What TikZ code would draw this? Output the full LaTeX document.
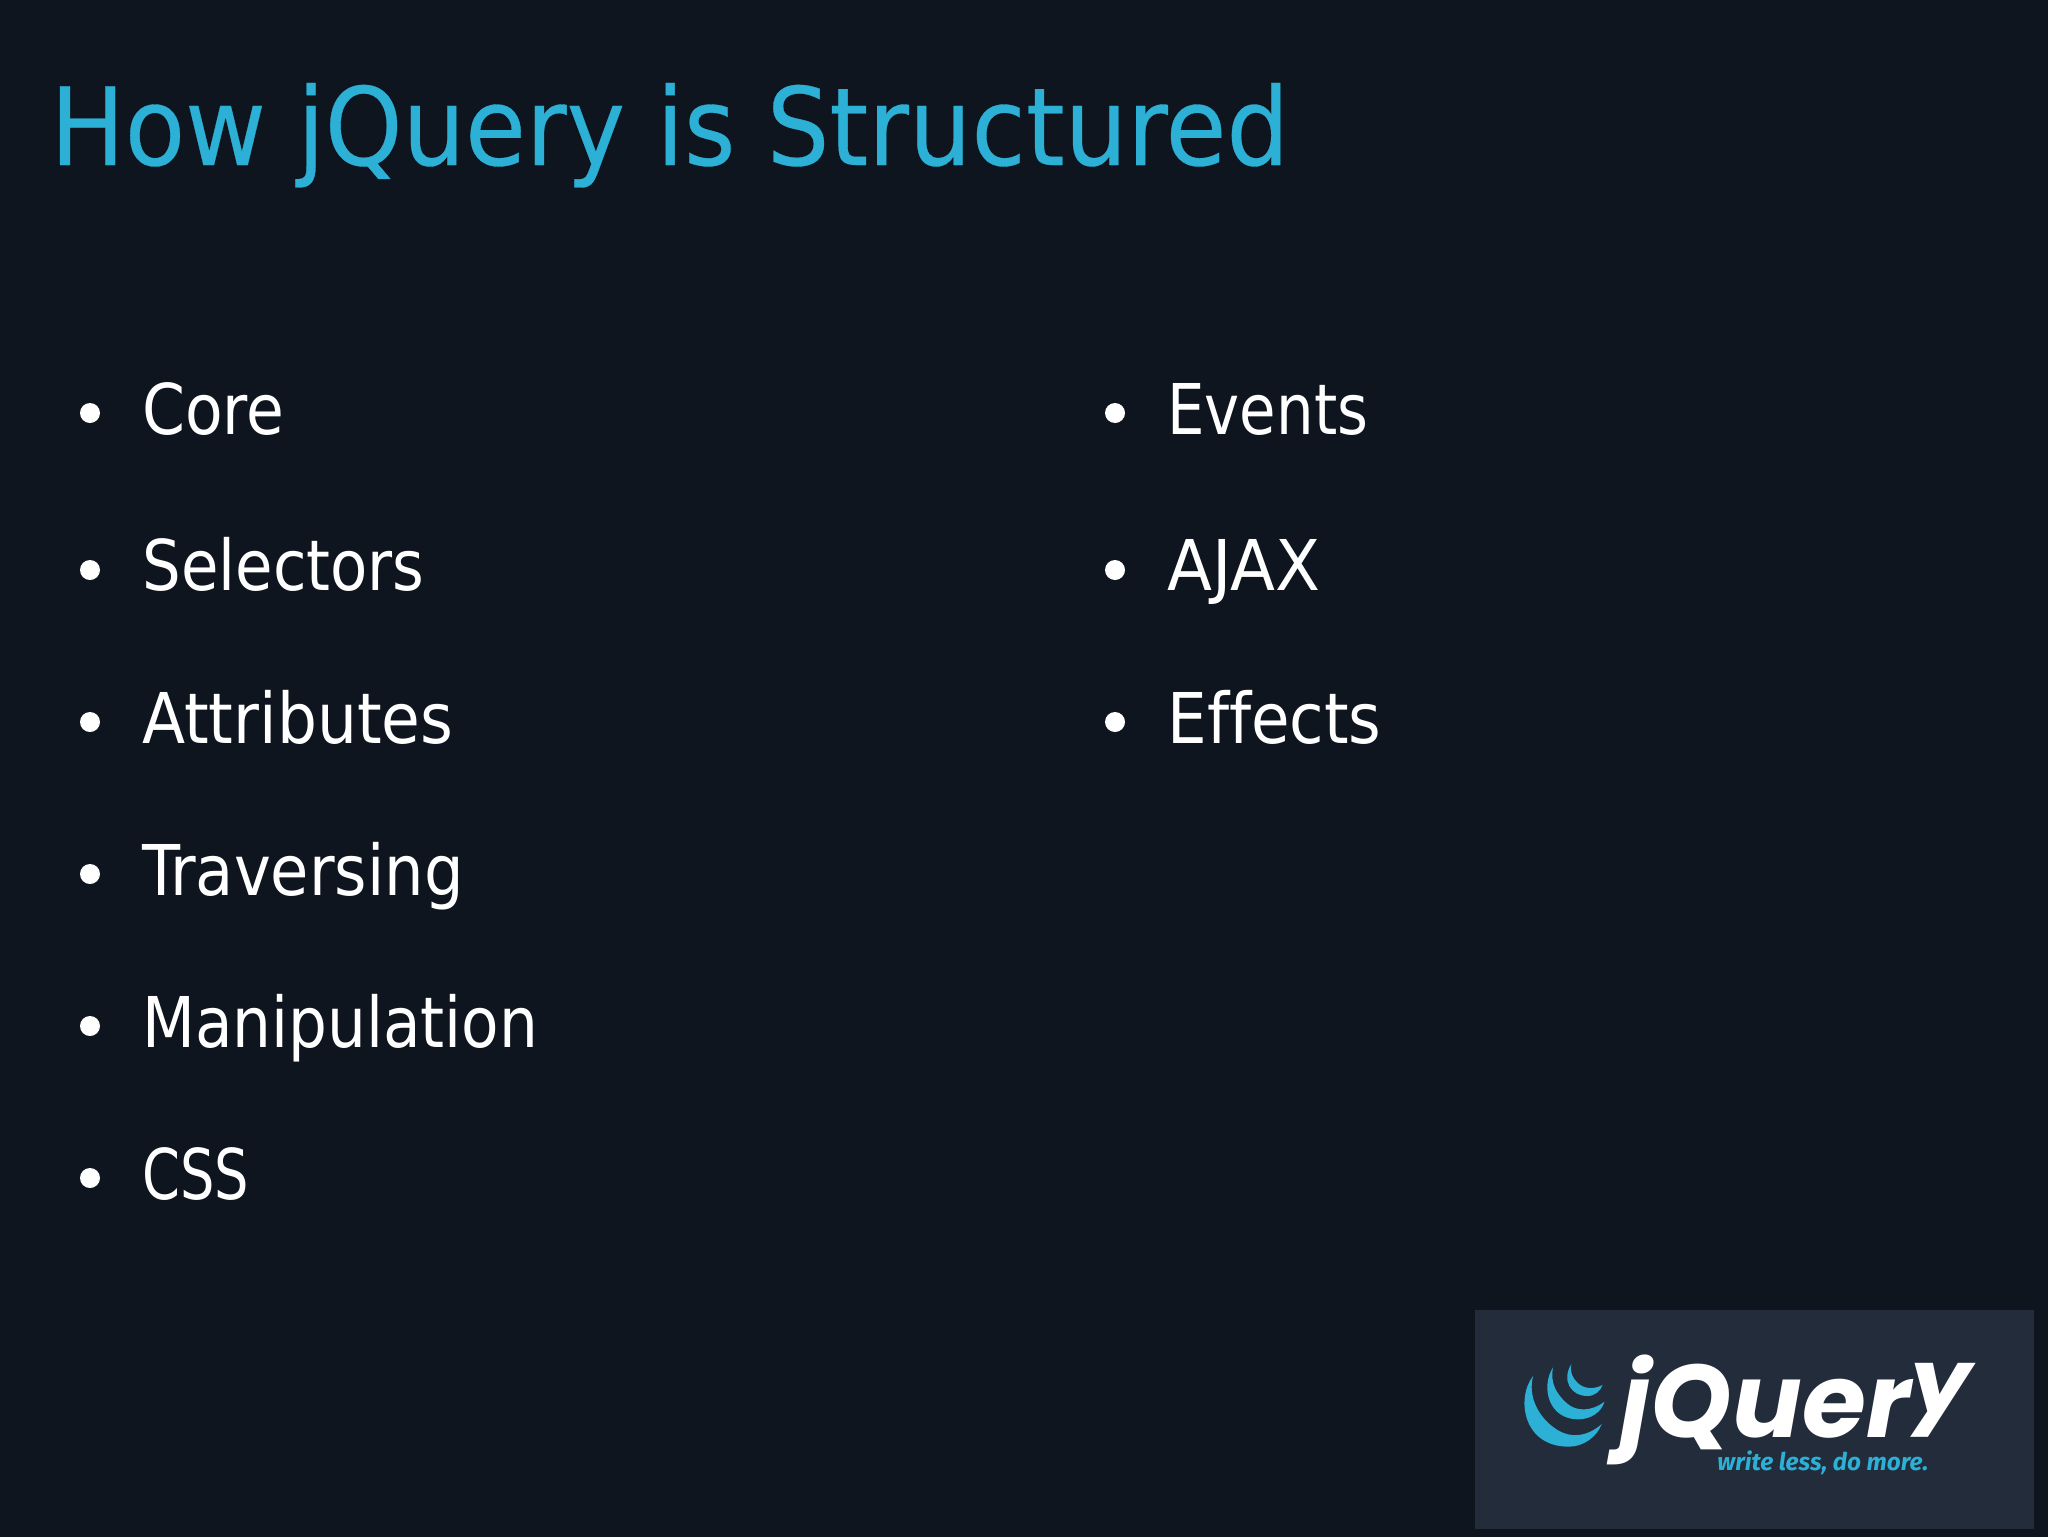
\documentclass[tikz,border=0pt]{standalone}
\usepackage{fontspec}
\usepackage{graphicx}
\setmainfont{DejaVu Sans}
\newfontfamily\slidefont{DejaVu Sans Condensed}[Ligatures=NoCommon]
\newfontfamily\titlefont{DejaVu Sans Condensed}[FakeStretch=1.017,FakeBold=0.3]
\newfontfamily\logofont{Poppins}
\newfontfamily\tagfont{Fira Sans}
\definecolor{slidebg}{HTML}{0E151E}
\definecolor{logobg}{HTML}{232C3B}
\definecolor{jqblue}{HTML}{2CB0D6}
\newcommand{\fitw}[2]{\resizebox{#1pt}{\height}{#2}}
\tikzset{
  titletext/.style={anchor=base west,inner sep=0pt,text=jqblue,font=\titlefont\fontsize{54}{60}\selectfont},
  itemtext/.style={anchor=base west,inner sep=0pt,text=white,font=\slidefont\fontsize{35}{42}\selectfont},
  bulletdot/.style={circle,fill=white,inner sep=0pt,minimum size=10pt},
  swirl/.style={fill=jqblue,draw=none}
}
\begin{document}
\begin{tikzpicture}[x=0.5pt,y=-0.5pt]
\useasboundingbox (0,0) rectangle (2048,1536);
\fill[slidebg] (-10,-10) rectangle (2060,1550);
\node[titletext] (title) at (50,165) {How jQuery is Structured};
\node[bulletdot] (b1) at (90,413) {};
\node[itemtext] (core) at (142,434) {\fitw{71}{Core}};
\node[bulletdot] (b2) at (90,570) {};
\node[itemtext] (sel) at (142,590) {\fitw{141}{Selectors}};
\node[bulletdot] (b3) at (90,722) {};
\node[itemtext] (attr) at (142,743) {\fitw{155.4}{Attributes}};
\node[bulletdot] (b4) at (90,874) {};
\node[itemtext] (trav) at (142,895) {\fitw{160.6}{Traversing}};
\node[bulletdot] (b5) at (90,1026) {};
\node[itemtext] (manip) at (142,1047) {\fitw{198}{Manipulation}};
\node[bulletdot] (b6) at (90,1178) {};
\node[itemtext] (css) at (142,1199) {\fitw{53.4}{CSS}};
\node[bulletdot] (b7) at (1115,413) {};
\node[itemtext] (events) at (1167,434) {\fitw{100.4}{Events}};
\node[bulletdot] (b8) at (1115,570) {};
\node[itemtext] (ajax) at (1167,590) {\fitw{76.4}{AJAX}};
\node[bulletdot] (b9) at (1115,722) {};
\node[itemtext] (effects) at (1167,743) {\fitw{107}{Effects}};
\fill[logobg] (1475,1310) rectangle (2034,1529);
\begin{scope}[shift={(1460,1290)},x=0.1875pt,y=-0.16667pt]
\fill[swirl] (195,258) .. controls (150,320) and (165,470) .. (290,470) .. controls (330,470) and (365,440) .. (378,402) .. controls (340,440) and (295,445) .. (260,420) .. controls (210,385) and (180,320) .. (195,258) -- cycle;
\fill[swirl] (248,232) .. controls (215,290) and (235,388) .. (315,388) .. controls (350,388) and (378,365) .. (385,335) .. controls (350,365) and (310,365) .. (285,340) .. controls (255,310) and (240,275) .. (248,232) -- cycle;
\fill[swirl] (297,222) .. controls (270,270) and (295,318) .. (340,318) .. controls (360,318) and (375,302) .. (380,285) .. controls (355,300) and (330,295) .. (315,280) .. controls (300,265) and (292,245) .. (297,222) -- cycle;
\end{scope}
\node[anchor=base west,inner sep=0pt,text=white] (logo) at (1620,1437) {\logofont\bfseries\itshape\resizebox*{145pt}{55pt}{jQuer}\resizebox*{30.5pt}{37pt}{\raisebox{\depth}{y}}};
\node[anchor=base west,inner sep=0pt,text=jqblue] (tag) at (1717,1470) {\resizebox{105.5pt}{!}{\tagfont\bfseries\itshape write less, do more.}};
\end{tikzpicture}
\end{document}
